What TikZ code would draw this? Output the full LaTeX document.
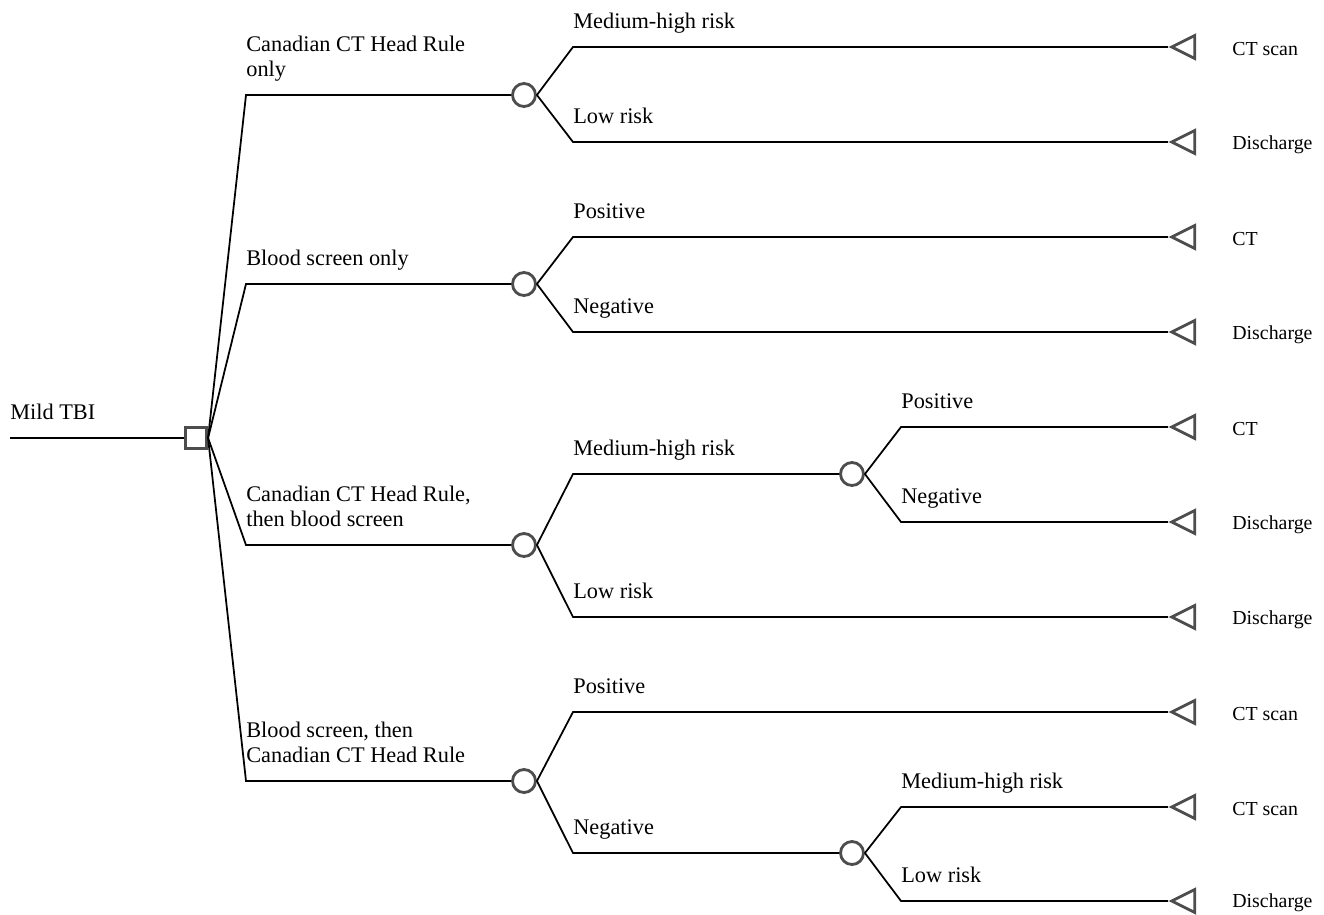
\documentclass[tikz,border=0pt]{standalone}
\usepackage{fontspec}
\setmainfont{Liberation Serif}
\usetikzlibrary{shapes.geometric}
\definecolor{nodegray}{HTML}{4D4D4D}

\begin{document}
\begin{tikzpicture}[
  x=0.02cm, y=-0.02cm,
  font=\rmfamily\fontsize{12.7}{14.2}\selectfont,
  branch/.style={draw=black, line width=1pt},
  decision/.style={draw=nodegray, fill=white, line width=1.8pt, minimum size=0.42cm, inner sep=0pt},
  chance/.style={circle, draw=nodegray, fill=white, line width=1.6pt, minimum size=0.46cm, inner sep=0pt},
  terminal/.style={isosceles triangle, shape border rotate=180, isosceles triangle stretches,
                   draw=nodegray, fill=white, line width=1.6pt, minimum width=0.46cm, minimum height=0.46cm,
                   inner sep=0pt, anchor=apex},
  lbl/.style={anchor=base west, inner sep=0pt, align=left, yshift=0.38cm},
  outcome/.style={anchor=west, inner sep=0pt, font=\rmfamily\fontsize{11.3}{13}\selectfont}
]
\useasboundingbox (0,0) rectangle (1324,914);

% decision
\coordinate (start) at (10,438);
\node[decision] (mtbi) at (196,438) {};
\draw[branch] (start) -- (mtbi);
\node[lbl] (lmtbi) at (start) {Mild TBI};

% strategies
\coordinate (s1) at (246,95);
\coordinate (s2) at (246,284);
\coordinate (s3) at (246,545);
\coordinate (s4) at (246,781);
\node[chance] (c1) at (524,95) {};
\node[chance] (c2) at (524,284) {};
\node[chance] (c3) at (524,545) {};
\node[chance] (c4) at (524,781) {};
\node[chance] (c5) at (852,474) {};
\node[chance] (c6) at (852,853) {};
\draw[branch] (mtbi.east) -- (s1) -- (c1);
\draw[branch] (mtbi.east) -- (s2) -- (c2);
\draw[branch] (mtbi.east) -- (s3) -- (c3);
\draw[branch] (mtbi.east) -- (s4) -- (c4);
\node[lbl] (ls1) at (s1) {Canadian CT Head Rule\\only};
\node[lbl] (ls2) at (s2) {Blood screen only};
\node[lbl] (ls3) at (s3) {Canadian CT Head Rule,\\then blood screen};
\node[lbl] (ls4) at (s4) {Blood screen, then\\Canadian CT Head Rule};

% outcome corners
\coordinate (a1) at (573,47);
\coordinate (a2) at (573,142);
\coordinate (b1) at (573,237);
\coordinate (b2) at (573,332);
\coordinate (d1) at (573,474);
\coordinate (d2) at (573,617);
\coordinate (e1) at (901,427);
\coordinate (e2) at (901,522);
\coordinate (f1) at (573,712);
\coordinate (f2) at (573,853);
\coordinate (g1) at (901,807);
\coordinate (g2) at (901,901);

% terminals
\node[terminal] (t1) at (1168,47) {};
\node[terminal] (t2) at (1168,142) {};
\node[terminal] (t3) at (1168,237) {};
\node[terminal] (t4) at (1168,332) {};
\node[terminal] (t5) at (1168,427) {};
\node[terminal] (t6) at (1168,522) {};
\node[terminal] (t7) at (1168,617) {};
\node[terminal] (t8) at (1168,712) {};
\node[terminal] (t9) at (1168,807) {};
\node[terminal] (t10) at (1168,901) {};

\draw[branch] (c1.east) -- (a1) -- (t1.apex);
\draw[branch] (c1.east) -- (a2) -- (t2.apex);
\draw[branch] (c2.east) -- (b1) -- (t3.apex);
\draw[branch] (c2.east) -- (b2) -- (t4.apex);
\draw[branch] (c3.east) -- (d1) -- (c5);
\draw[branch] (c3.east) -- (d2) -- (t7.apex);
\draw[branch] (c5.east) -- (e1) -- (t5.apex);
\draw[branch] (c5.east) -- (e2) -- (t6.apex);
\draw[branch] (c4.east) -- (f1) -- (t8.apex);
\draw[branch] (c4.east) -- (f2) -- (c6);
\draw[branch] (c6.east) -- (g1) -- (t9.apex);
\draw[branch] (c6.east) -- (g2) -- (t10.apex);

\node[lbl] (la1) at (a1) {Medium-high risk};
\node[lbl] (la2) at (a2) {Low risk};
\node[lbl] (lb1) at (b1) {Positive};
\node[lbl] (lb2) at (b2) {Negative};
\node[lbl] (ld1) at (d1) {Medium-high risk};
\node[lbl] (ld2) at (d2) {Low risk};
\node[lbl] (le1) at (e1) {Positive};
\node[lbl] (le2) at (e2) {Negative};
\node[lbl] (lf1) at (f1) {Positive};
\node[lbl] (lf2) at (f2) {Negative};
\node[lbl] (lg1) at (g1) {Medium-high risk};
\node[lbl] (lg2) at (g2) {Low risk};

% outcomes
\node[outcome] (o1) at (1232,49) {CT scan};
\node[outcome] (o2) at (1232,145) {Discharge};
\node[outcome] (o3) at (1232,239) {CT};
\node[outcome] (o4) at (1232,335) {Discharge};
\node[outcome] (o5) at (1232,429) {CT};
\node[outcome] (o6) at (1232,525) {Discharge};
\node[outcome] (o7) at (1232,620) {Discharge};
\node[outcome] (o8) at (1232,714) {CT scan};
\node[outcome] (o9) at (1232,809) {CT scan};
\node[outcome] (o10) at (1232,903) {Discharge};
\end{tikzpicture}
\end{document}
